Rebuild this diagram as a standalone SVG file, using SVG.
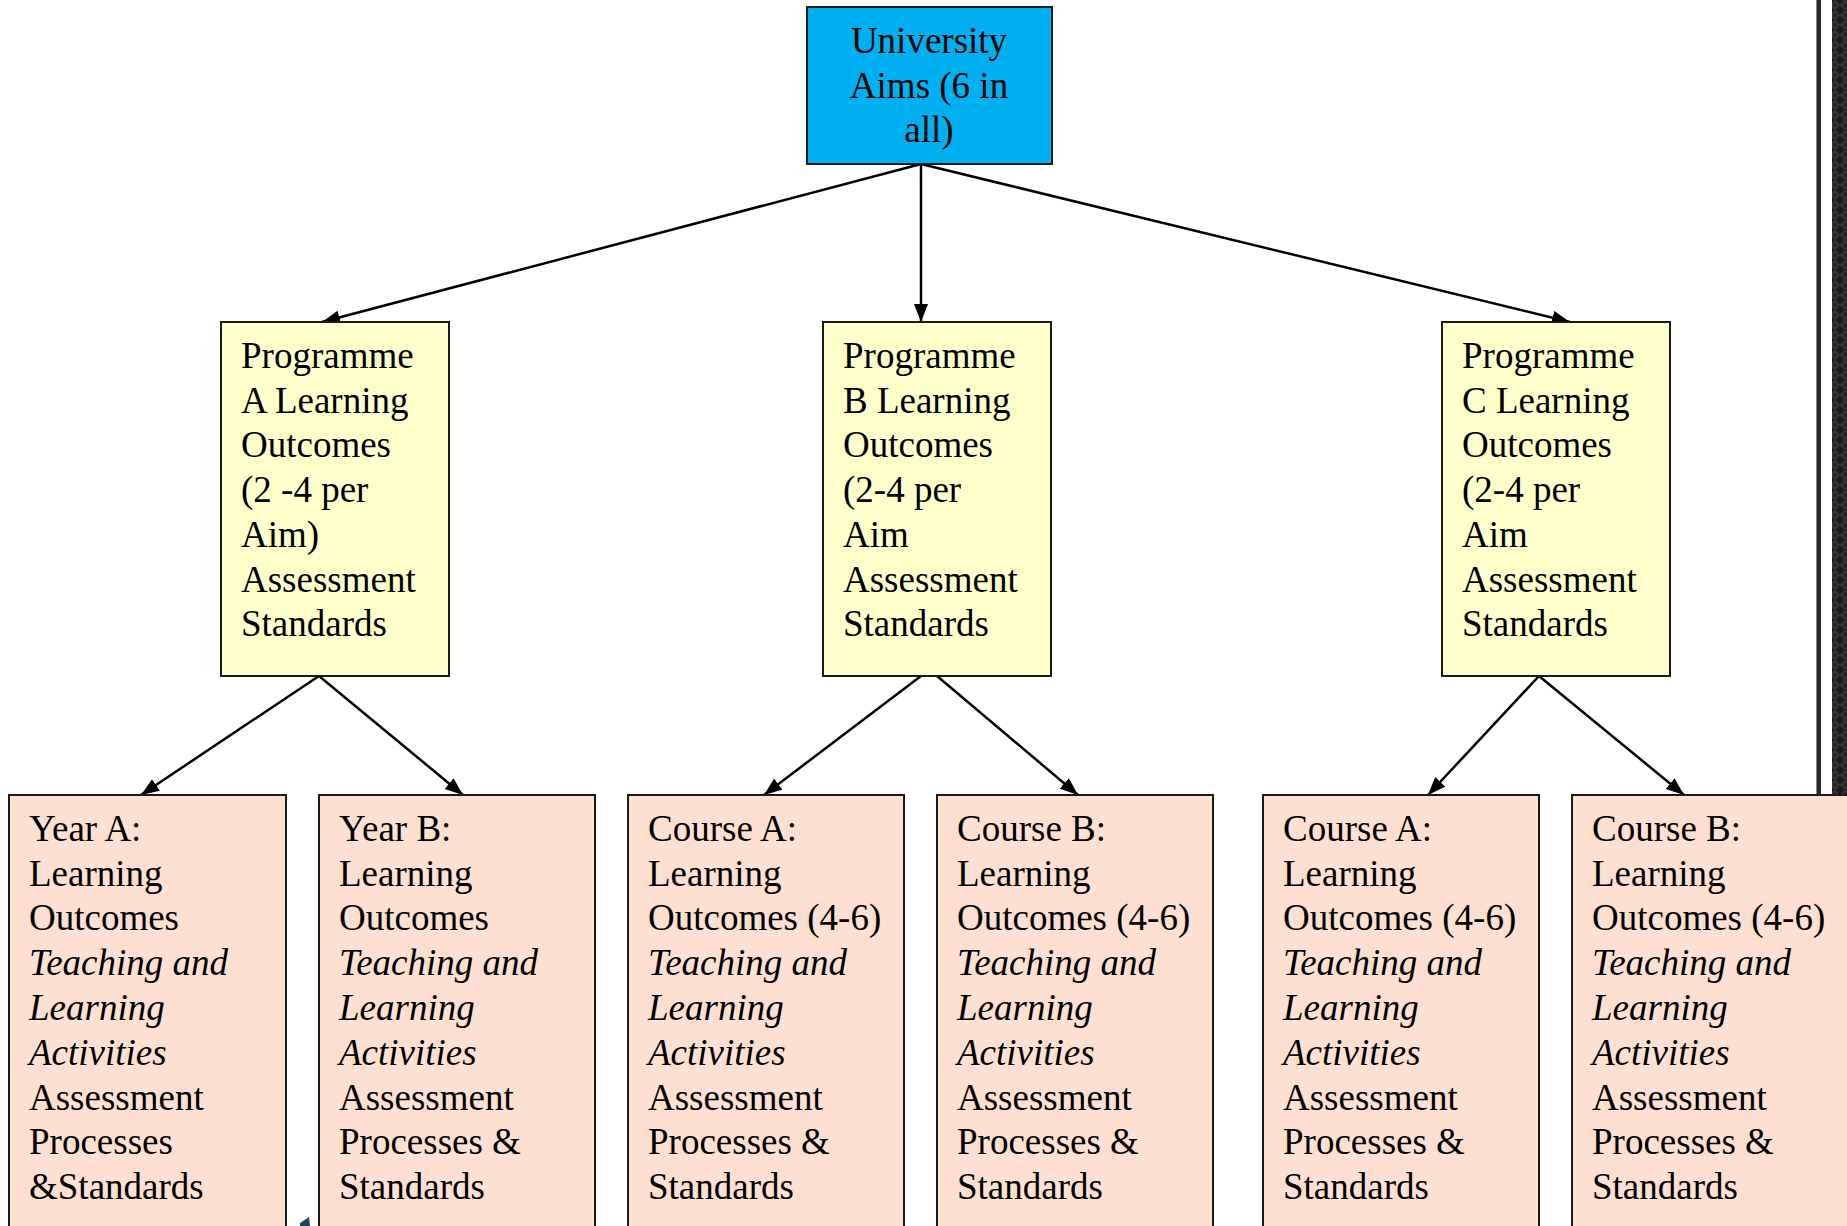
<svg xmlns="http://www.w3.org/2000/svg" width="1847" height="1226" viewBox="0 0 1847 1226">
<style>
.t{font-family:"Liberation Serif","Times New Roman",serif;font-size:37px;fill:#000}
.i{font-style:italic}
.box{stroke:#1a1a1a;stroke-width:2}
.aim{fill:#00B0F0}
.prog{fill:#FFFFCC}
.crs{fill:#FDE0D2}
.con{stroke:#000;stroke-width:2.5;fill:none;marker-end:url(#ah)}
</style>
<defs>
<marker id="ah" markerUnits="userSpaceOnUse" markerWidth="20" markerHeight="16" refX="18" refY="7" orient="auto">
<path d="M0,0 L18,7 L0,14 Z" fill="#000"/>
</marker>
<pattern id="carbon" patternUnits="userSpaceOnUse" width="10" height="10">
<rect width="10" height="10" fill="#1c1c1c"/>
<path d="M0,5 L5,0 L10,5 L5,10 Z" fill="#3a3a3a"/>
<path d="M2,5 L5,2 L8,5 L5,8 Z" fill="#262626"/>
</pattern>
</defs>
<rect width="1847" height="1226" fill="#fff"/>
<g id="edge-strip">
<rect x="1816" y="0" width="5" height="796" fill="#2a2a2a"/>
<rect x="1816" y="0" width="1" height="796" fill="#888"/>
<rect x="1832" y="0" width="15" height="796" fill="url(#carbon)"/>
</g>
<g id="connectors">
<line class="con" x1="921" y1="164" x2="322" y2="322"/>
<line class="con" x1="921" y1="164" x2="921" y2="322"/>
<line class="con" x1="921" y1="164" x2="1570" y2="322"/>
<line class="con" x1="319" y1="676" x2="141" y2="795"/>
<line class="con" x1="319" y1="676" x2="463" y2="795"/>
<line class="con" x1="921" y1="676" x2="764" y2="795"/>
<line class="con" x1="937" y1="676" x2="1078" y2="795"/>
<line class="con" x1="1539" y1="676" x2="1428" y2="795"/>
<line class="con" x1="1539" y1="676" x2="1684" y2="795"/>
</g>
<g id="aims">
<rect class="box aim" x="807" y="7" width="245" height="157"/>
<text class="t" text-anchor="middle"><tspan x="929" y="53">University</tspan><tspan x="929" y="98">Aims (6 in</tspan><tspan x="929" y="142">all)</tspan></text>
</g>
<g id="progA">
<rect class="box prog" x="221" y="322" width="228" height="354"/>
<text class="t"><tspan x="241" y="368">Programme</tspan><tspan x="241" y="413">A Learning</tspan><tspan x="241" y="457">Outcomes</tspan><tspan x="241" y="502">(2 -4 per</tspan><tspan x="241" y="547">Aim)</tspan><tspan x="241" y="592">Assessment</tspan><tspan x="241" y="636">Standards</tspan></text>
</g>
<g id="progB">
<rect class="box prog" x="823" y="322" width="228" height="354"/>
<text class="t"><tspan x="843" y="368">Programme</tspan><tspan x="843" y="413">B Learning</tspan><tspan x="843" y="457">Outcomes</tspan><tspan x="843" y="502">(2-4 per</tspan><tspan x="843" y="547">Aim</tspan><tspan x="843" y="592">Assessment</tspan><tspan x="843" y="636">Standards</tspan></text>
</g>
<g id="progC">
<rect class="box prog" x="1442" y="322" width="228" height="354"/>
<text class="t"><tspan x="1462" y="368">Programme</tspan><tspan x="1462" y="413">C Learning</tspan><tspan x="1462" y="457">Outcomes</tspan><tspan x="1462" y="502">(2-4 per</tspan><tspan x="1462" y="547">Aim</tspan><tspan x="1462" y="592">Assessment</tspan><tspan x="1462" y="636">Standards</tspan></text>
</g>
<g id="yearA">
<rect class="box crs" x="9" y="795" width="277" height="450"/>
<text class="t"><tspan x="29" y="841">Year A:</tspan><tspan x="29" y="886">Learning</tspan><tspan x="29" y="930">Outcomes</tspan><tspan class="i" x="29" y="975">Teaching and</tspan><tspan class="i" x="29" y="1020">Learning</tspan><tspan class="i" x="29" y="1065">Activities</tspan><tspan x="29" y="1110">Assessment</tspan><tspan x="29" y="1154">Processes</tspan><tspan x="29" y="1199">&amp;Standards</tspan></text>
</g>
<g id="yearB">
<rect class="box crs" x="319" y="795" width="276" height="450"/>
<text class="t"><tspan x="339" y="841">Year B:</tspan><tspan x="339" y="886">Learning</tspan><tspan x="339" y="930">Outcomes</tspan><tspan class="i" x="339" y="975">Teaching and</tspan><tspan class="i" x="339" y="1020">Learning</tspan><tspan class="i" x="339" y="1065">Activities</tspan><tspan x="339" y="1110">Assessment</tspan><tspan x="339" y="1154">Processes &amp;</tspan><tspan x="339" y="1199">Standards</tspan></text>
</g>
<g id="courseBA">
<rect class="box crs" x="628" y="795" width="276" height="450"/>
<text class="t"><tspan x="648" y="841">Course A:</tspan><tspan x="648" y="886">Learning</tspan><tspan x="648" y="930">Outcomes (4-6)</tspan><tspan class="i" x="648" y="975">Teaching and</tspan><tspan class="i" x="648" y="1020">Learning</tspan><tspan class="i" x="648" y="1065">Activities</tspan><tspan x="648" y="1110">Assessment</tspan><tspan x="648" y="1154">Processes &amp;</tspan><tspan x="648" y="1199">Standards</tspan></text>
</g>
<g id="courseBB">
<rect class="box crs" x="937" y="795" width="276" height="450"/>
<text class="t"><tspan x="957" y="841">Course B:</tspan><tspan x="957" y="886">Learning</tspan><tspan x="957" y="930">Outcomes (4-6)</tspan><tspan class="i" x="957" y="975">Teaching and</tspan><tspan class="i" x="957" y="1020">Learning</tspan><tspan class="i" x="957" y="1065">Activities</tspan><tspan x="957" y="1110">Assessment</tspan><tspan x="957" y="1154">Processes &amp;</tspan><tspan x="957" y="1199">Standards</tspan></text>
</g>
<g id="courseCA">
<rect class="box crs" x="1263" y="795" width="276" height="450"/>
<text class="t"><tspan x="1283" y="841">Course A:</tspan><tspan x="1283" y="886">Learning</tspan><tspan x="1283" y="930">Outcomes (4-6)</tspan><tspan class="i" x="1283" y="975">Teaching and</tspan><tspan class="i" x="1283" y="1020">Learning</tspan><tspan class="i" x="1283" y="1065">Activities</tspan><tspan x="1283" y="1110">Assessment</tspan><tspan x="1283" y="1154">Processes &amp;</tspan><tspan x="1283" y="1199">Standards</tspan></text>
</g>
<g id="courseCB">
<rect class="box crs" x="1572" y="795" width="300" height="450"/>
<text class="t"><tspan x="1592" y="841">Course B:</tspan><tspan x="1592" y="886">Learning</tspan><tspan x="1592" y="930">Outcomes (4-6)</tspan><tspan class="i" x="1592" y="975">Teaching and</tspan><tspan class="i" x="1592" y="1020">Learning</tspan><tspan class="i" x="1592" y="1065">Activities</tspan><tspan x="1592" y="1110">Assessment</tspan><tspan x="1592" y="1154">Processes &amp;</tspan><tspan x="1592" y="1199">Standards</tspan></text>
</g>
<path d="M300,1223 L309,1217 L310,1226 L300,1226 Z" fill="#1d4556"/>
</svg>
